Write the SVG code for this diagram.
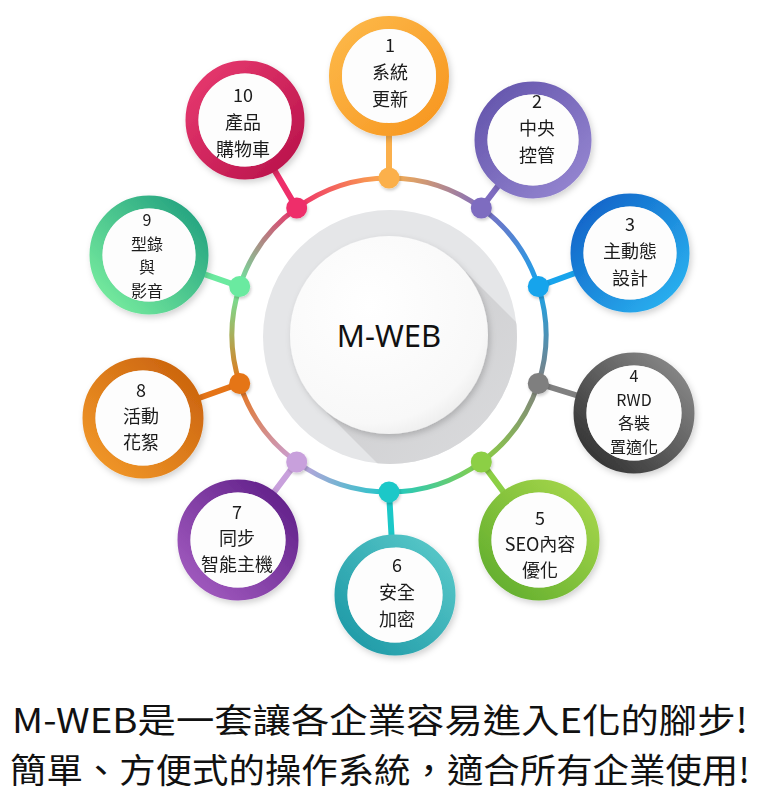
<svg xmlns="http://www.w3.org/2000/svg" width="759" height="800" viewBox="0 0 759 800">
<defs>
<style>
.nt{font-family:"Noto Sans CJK TC","Noto Sans",sans-serif;font-size:18px;fill:#1a1a1a;text-anchor:middle}
.ns{font-size:16px}
.bt{font-family:"Noto Sans CJK TC","Noto Sans",sans-serif;font-size:34px;fill:#111}
.inner{fill:#fdfdfd}
.ring{fill:none;stroke-width:13}
.arc{fill:none;stroke-width:5;stroke-linecap:round}
.con{stroke-width:6;stroke-linecap:round}
</style>
<filter id="sh" x="-30%" y="-30%" width="160%" height="160%"><feDropShadow dx="2" dy="3" stdDeviation="3" flood-color="#000" flood-opacity="0.18"/></filter>
<filter id="shs" x="-50%" y="-50%" width="200%" height="200%"><feDropShadow dx="1" dy="2" stdDeviation="1.5" flood-color="#000" flood-opacity="0.2"/></filter>
<clipPath id="gd"><circle cx="390" cy="337" r="127"/></clipPath>
<linearGradient id="shg" x1="0" y1="0" x2="1" y2="1"><stop offset="0" stop-color="#c9c9cb"/><stop offset="1" stop-color="#e3e4e6"/></linearGradient>
<radialGradient id="wg" cx="0.4" cy="0.35" r="0.7"><stop offset="0" stop-color="#ffffff"/><stop offset="0.85" stop-color="#f8f8f8"/><stop offset="1" stop-color="#ececec"/></radialGradient>
<linearGradient id="n1" x1="0" y1="0" x2="1" y2="1"><stop offset="0" stop-color="#fdb94a"/><stop offset="1" stop-color="#f7961f"/></linearGradient>
<linearGradient id="n2" x1="0" y1="0" x2="1" y2="1"><stop offset="0" stop-color="#6253ab"/><stop offset="1" stop-color="#9788d2"/></linearGradient>
<linearGradient id="n3" x1="0" y1="0" x2="1" y2="1"><stop offset="0" stop-color="#0e5fc6"/><stop offset="1" stop-color="#2cb6f2"/></linearGradient>
<linearGradient id="n4" x1="0" y1="1" x2="1" y2="0"><stop offset="0" stop-color="#2c2c2c"/><stop offset="1" stop-color="#8e8e8e"/></linearGradient>
<linearGradient id="n5" x1="0" y1="1" x2="1" y2="0"><stop offset="0" stop-color="#5eac2c"/><stop offset="1" stop-color="#a9d84c"/></linearGradient>
<linearGradient id="n6" x1="0" y1="1" x2="1" y2="0"><stop offset="0" stop-color="#1b97a5"/><stop offset="1" stop-color="#5bcaca"/></linearGradient>
<linearGradient id="n7" x1="0" y1="1" x2="1" y2="0"><stop offset="0" stop-color="#a55ec2"/><stop offset="1" stop-color="#5d1d86"/></linearGradient>
<linearGradient id="n8" x1="0" y1="1" x2="1" y2="0"><stop offset="0" stop-color="#f39a2a"/><stop offset="1" stop-color="#c8600c"/></linearGradient>
<linearGradient id="n9" x1="0" y1="1" x2="1" y2="0"><stop offset="0" stop-color="#7cf0a0"/><stop offset="1" stop-color="#1e9e7e"/></linearGradient>
<linearGradient id="n10" x1="0" y1="0" x2="1" y2="1"><stop offset="0" stop-color="#e83a70"/><stop offset="1" stop-color="#b8124a"/></linearGradient>
<linearGradient id="a0" gradientUnits="userSpaceOnUse" x1="389" y1="178" x2="481.3" y2="208"><stop offset="0" stop-color="#fbb04c"/><stop offset="1" stop-color="#7e6cc0"/></linearGradient>
<linearGradient id="a1" gradientUnits="userSpaceOnUse" x1="481.3" y1="208" x2="538.3" y2="286.5"><stop offset="0" stop-color="#7e6cc0"/><stop offset="1" stop-color="#18a4ec"/></linearGradient>
<linearGradient id="a2" gradientUnits="userSpaceOnUse" x1="538.3" y1="286.5" x2="538.3" y2="383.5"><stop offset="0" stop-color="#18a4ec"/><stop offset="1" stop-color="#808080"/></linearGradient>
<linearGradient id="a3" gradientUnits="userSpaceOnUse" x1="538.3" y1="383.5" x2="481.3" y2="462"><stop offset="0" stop-color="#808080"/><stop offset="1" stop-color="#8ccf45"/></linearGradient>
<linearGradient id="a4" gradientUnits="userSpaceOnUse" x1="481.3" y1="462" x2="389" y2="492"><stop offset="0" stop-color="#8ccf45"/><stop offset="1" stop-color="#1bc8c8"/></linearGradient>
<linearGradient id="a5" gradientUnits="userSpaceOnUse" x1="389" y1="492" x2="296.7" y2="462"><stop offset="0" stop-color="#1bc8c8"/><stop offset="1" stop-color="#c8a0dc"/></linearGradient>
<linearGradient id="a6" gradientUnits="userSpaceOnUse" x1="296.7" y1="462" x2="239.7" y2="383.5"><stop offset="0" stop-color="#c8a0dc"/><stop offset="1" stop-color="#e57417"/></linearGradient>
<linearGradient id="a7" gradientUnits="userSpaceOnUse" x1="239.7" y1="383.5" x2="239.7" y2="286.5"><stop offset="0" stop-color="#e57417"/><stop offset="1" stop-color="#6beaa0"/></linearGradient>
<linearGradient id="a8" gradientUnits="userSpaceOnUse" x1="239.7" y1="286.5" x2="296.7" y2="208"><stop offset="0" stop-color="#6beaa0"/><stop offset="1" stop-color="#ee2e6a"/></linearGradient>
<linearGradient id="a9" gradientUnits="userSpaceOnUse" x1="296.7" y1="208" x2="389" y2="178"><stop offset="0" stop-color="#ee2e6a"/><stop offset="1" stop-color="#fbb04c"/></linearGradient>
</defs>
<rect width="759" height="800" fill="#ffffff"/>

<g id="center">
<circle cx="390" cy="337" r="127" fill="#e5e6e8"/>
<polygon points="459,265 319,405 470,556 610,416" fill="url(#shg)" clip-path="url(#gd)"/>
<circle cx="389" cy="335" r="99" fill="url(#wg)" filter="url(#sh)"/>
<text x="389" y="347" style="font-family:'Noto Sans','Open Sans',sans-serif;font-size:31px;fill:#111;text-anchor:middle">M-WEB</text>
</g>

<g id="connectors">
<path class="arc" stroke="url(#a0)" d="M389,178 A157,157 0 0 1 481.3,208"/>
<path class="arc" stroke="url(#a1)" d="M481.3,208 A157,157 0 0 1 538.3,286.5"/>
<path class="arc" stroke="url(#a2)" d="M538.3,286.5 A157,157 0 0 1 538.3,383.5"/>
<path class="arc" stroke="url(#a3)" d="M538.3,383.5 A157,157 0 0 1 481.3,462"/>
<path class="arc" stroke="url(#a4)" d="M481.3,462 A157,157 0 0 1 389,492"/>
<path class="arc" stroke="url(#a5)" d="M389,492 A157,157 0 0 1 296.7,462"/>
<path class="arc" stroke="url(#a6)" d="M296.7,462 A157,157 0 0 1 239.7,383.5"/>
<path class="arc" stroke="url(#a7)" d="M239.7,383.5 A157,157 0 0 1 239.7,286.5"/>
<path class="arc" stroke="url(#a8)" d="M239.7,286.5 A157,157 0 0 1 296.7,208"/>
<path class="arc" stroke="url(#a9)" d="M296.7,208 A157,157 0 0 1 389,178"/>
<line class="con" x1="389" y1="178" x2="389" y2="76" stroke="#fbb04c"/>
<line class="con" x1="481.3" y1="208" x2="533" y2="140" stroke="#7e6cc0"/>
<line class="con" x1="538.3" y1="286.5" x2="630" y2="253" stroke="#18a4ec"/>
<line class="con" x1="538.3" y1="383.5" x2="634" y2="413" stroke="#808080"/>
<line class="con" x1="481.3" y1="462" x2="539" y2="540" stroke="#8ccf45"/>
<line class="con" x1="389" y1="492" x2="395" y2="595" stroke="#1bc8c8"/>
<line class="con" x1="296.7" y1="462" x2="238" y2="540" stroke="#c8a0dc"/>
<line class="con" x1="239.7" y1="383.5" x2="143" y2="418" stroke="#e57417"/>
<line class="con" x1="239.7" y1="286.5" x2="149" y2="255" stroke="#6beaa0"/>
<line class="con" x1="296.7" y1="208" x2="245" y2="120" stroke="#ee2e6a"/>
<g filter="url(#shs)">
<circle cx="389" cy="178" r="10.5" fill="#fbb04c"/>
<circle cx="481.3" cy="208" r="10.5" fill="#7e6cc0"/>
<circle cx="538.3" cy="286.5" r="10.5" fill="#18a4ec"/>
<circle cx="538.3" cy="383.5" r="10.5" fill="#7f7f7f"/>
<circle cx="481.3" cy="462" r="10.5" fill="#8ccf45"/>
<circle cx="389" cy="492" r="10.5" fill="#1bc8c8"/>
<circle cx="296.7" cy="462" r="10.5" fill="#c8a0dc"/>
<circle cx="239.7" cy="383.5" r="10.5" fill="#e57417"/>
<circle cx="239.7" cy="286.5" r="10.5" fill="#6beaa0"/>
<circle cx="296.7" cy="208" r="10.5" fill="#ee2e6a"/>
</g>
</g>

<g id="node1" filter="url(#sh)">
<circle cx="389" cy="76" r="53.5" class="ring" stroke="url(#n1)"/>
<circle cx="389" cy="76" r="47" class="inner"/>
<text class="nt" x="390" y="52">1</text><text class="nt" x="390" y="79">系統</text><text class="nt" x="390" y="106">更新</text>
</g>
<g id="node2" filter="url(#sh)">
<circle cx="533" cy="140" r="52" class="ring" stroke="url(#n2)"/>
<circle cx="533" cy="140" r="45.5" class="inner"/>
<text class="nt" x="537" y="108">2</text><text class="nt" x="537" y="135">中央</text><text class="nt" x="537" y="162">控管</text>
</g>
<g id="node3" filter="url(#sh)">
<circle cx="630" cy="253" r="53" class="ring" stroke="url(#n3)"/>
<circle cx="630" cy="253" r="46.5" class="inner"/>
<text class="nt" x="630" y="231">3</text><text class="nt" x="630" y="258">主動態</text><text class="nt" x="630" y="285">設計</text>
</g>
<g id="node4" filter="url(#sh)">
<circle cx="634" cy="413" r="54" class="ring" stroke="url(#n4)"/>
<circle cx="634" cy="413" r="47.5" class="inner"/>
<text class="nt ns" x="634" y="382">4</text><text class="nt ns" x="634" y="405.5">RWD</text><text class="nt ns" x="634" y="429">各裝</text><text class="nt ns" x="634" y="452.5">置適化</text>
</g>
<g id="node5" filter="url(#sh)">
<circle cx="539" cy="540" r="54" class="ring" stroke="url(#n5)"/>
<circle cx="539" cy="540" r="47.5" class="inner"/>
<text class="nt" x="540" y="525">5</text><text class="nt" x="540" y="551">SEO內容</text><text class="nt" x="540" y="577">優化</text>
</g>
<g id="node6" filter="url(#sh)">
<circle cx="395" cy="595" r="54" class="ring" stroke="url(#n6)"/>
<circle cx="395" cy="595" r="47.5" class="inner"/>
<text class="nt" x="397" y="572">6</text><text class="nt" x="397" y="599">安全</text><text class="nt" x="397" y="626">加密</text>
</g>
<g id="node7" filter="url(#sh)">
<circle cx="238" cy="540" r="54" class="ring" stroke="url(#n7)"/>
<circle cx="238" cy="540" r="47.5" class="inner"/>
<text class="nt" x="237" y="519">7</text><text class="nt" x="237" y="545">同步</text><text class="nt" x="237" y="571">智能主機</text>
</g>
<g id="node8" filter="url(#sh)">
<circle cx="143" cy="418" r="54" class="ring" stroke="url(#n8)"/>
<circle cx="143" cy="418" r="47.5" class="inner"/>
<text class="nt" x="141" y="397">8</text><text class="nt" x="141" y="423">活動</text><text class="nt" x="141" y="449">花絮</text>
</g>
<g id="node9" filter="url(#sh)">
<circle cx="149" cy="255" r="53" class="ring" stroke="url(#n9)"/>
<circle cx="149" cy="255" r="46.5" class="inner"/>
<text class="nt ns" x="147" y="226">9</text><text class="nt ns" x="147" y="249.5">型錄</text><text class="nt ns" x="147" y="273">與</text><text class="nt ns" x="147" y="296.5">影音</text>
</g>
<g id="node10" filter="url(#sh)">
<circle cx="245" cy="120" r="53" class="ring" stroke="url(#n10)"/>
<circle cx="245" cy="120" r="46.5" class="inner"/>
<text class="nt" x="243" y="102">10</text><text class="nt" x="243" y="129">產品</text><text class="nt" x="243" y="156">購物車</text>
</g>

<g id="caption">
<text class="bt" x="12" y="733" textLength="736" lengthAdjust="spacingAndGlyphs">M-WEB是一套讓各企業容易進入E化的腳步!</text>
<text class="bt" x="10" y="783" textLength="740" lengthAdjust="spacingAndGlyphs">簡單、方便式的操作系統，適合所有企業使用!</text>
</g>
</svg>
